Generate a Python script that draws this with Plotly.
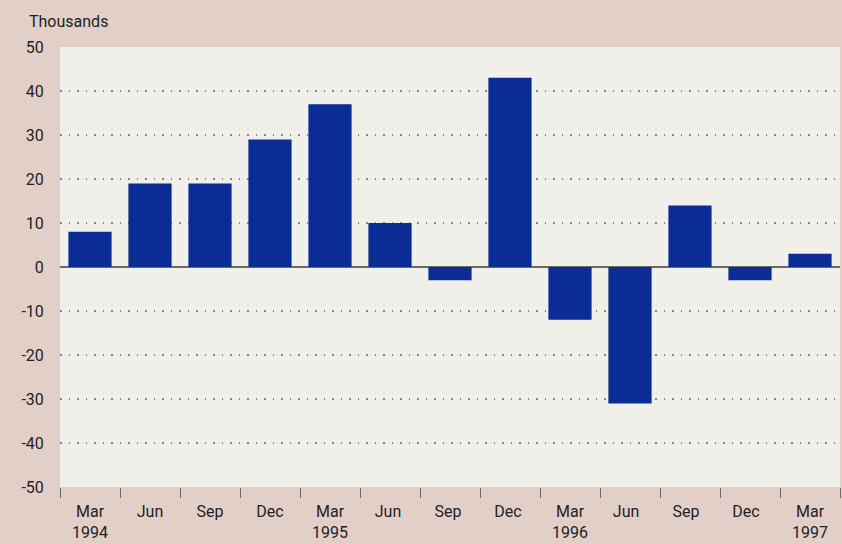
import plotly.graph_objects as go

categories = ["Mar<br>1994", "Jun", "Sep", "Dec", "Mar<br>1995", "Jun ", "Sep ", "Dec ",
              "Mar<br>1996", "Jun  ", "Sep  ", "Dec  ", "Mar<br>1997"]
values = [8, 19, 19, 29, 37, 10, -3, 43, -12, -31, 14, -3, 3]
y_ticks = [-50, -40, -30, -20, -10, 0, 10, 20, 30, 40, 50]

FONT = "Liberation Sans Narrow, Arial Narrow, Roboto, sans-serif"
BG = "#e2d0c8"
PLOT_BG = "#f0efe9"
BAR = "#0b2c94"
TXT = "#222222"

fig = go.Figure()
fig.add_trace(go.Bar(x=categories, y=values, marker=dict(color=BAR, line=dict(width=0))))

fig.update_layout(
    width=842, height=544,
    paper_bgcolor=BG, plot_bgcolor=PLOT_BG,
    margin=dict(l=60, r=2, t=47, b=55),
    bargap=0.28,
    showlegend=False,
    font=dict(family=FONT, size=16, color=TXT),
    annotations=[dict(text="Thousands", xref="paper", yref="paper", x=0, y=1.0,
                      xanchor="left", yanchor="bottom", xshift=-33, yshift=14, showarrow=False,
                      font=dict(family=FONT, size=16, color=TXT))],
)
fig.update_xaxes(
    type="category", range=[-0.5, 12.5],
    tickson="boundaries", ticks="outside", ticklen=10, tickwidth=1.2, tickcolor="#6a6a6a",
    ticklabelstandoff=13,
    showgrid=False, showline=False, zeroline=False,
    tickfont=dict(family=FONT, size=16, color=TXT),
)
fig.update_yaxes(
    range=[-50, 50], tickvals=y_ticks, ticktext=[str(v) for v in y_ticks],
    ticks="outside", ticklen=12, tickcolor="rgba(0,0,0,0)",
    showgrid=True, gridcolor="#858585", gridwidth=1.5, griddash="1.5px,7px",
    zeroline=True, zerolinecolor="#6b6b5e", zerolinewidth=1.5,
    showline=False,
    tickfont=dict(family=FONT, size=16, color=TXT),
)

fig.write_html("out.html", config={"displayModeBar": False},
               post_script="document.body.style.margin='0';document.body.style.padding='0';")
